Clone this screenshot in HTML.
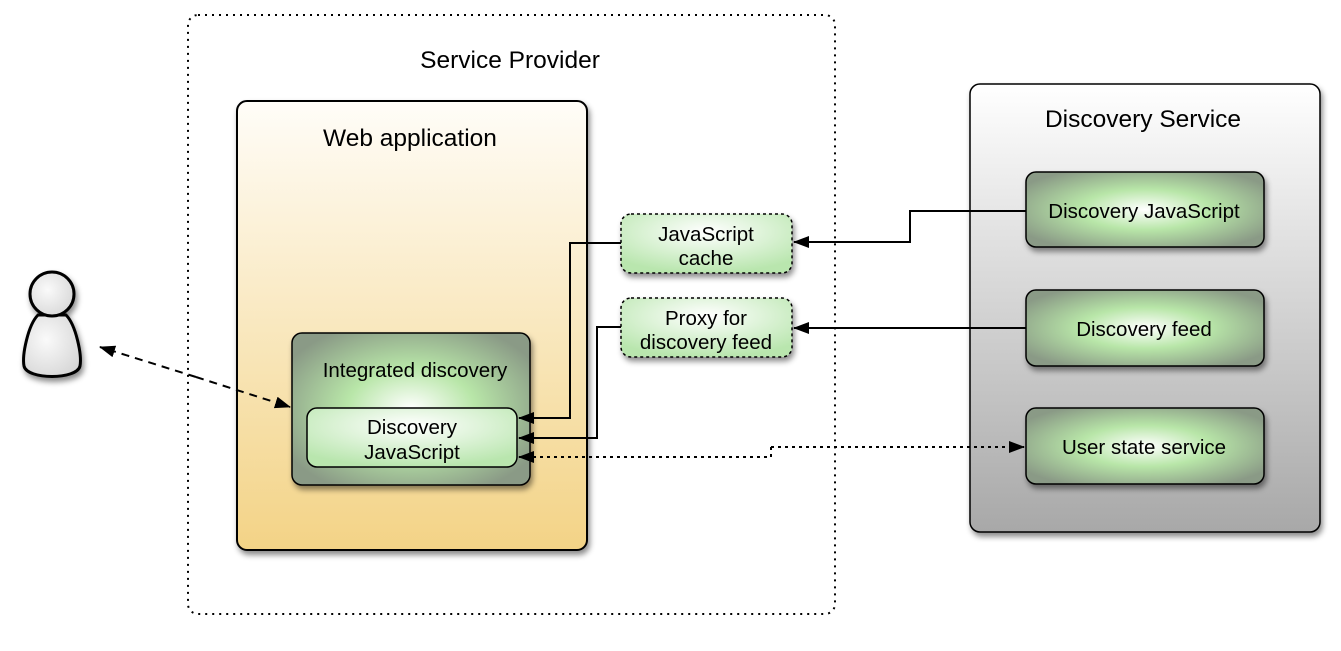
<!DOCTYPE html>
<html><head><style>
body{margin:0;background:#fff;font-family:"Liberation Sans",sans-serif;}
</style></head><body>
<svg width="1341" height="646" xmlns="http://www.w3.org/2000/svg" font-family="Liberation Sans, sans-serif">
<defs>
<linearGradient id="wa" x1="0" y1="0" x2="0" y2="1"><stop offset="0" stop-color="#fffdf8"/><stop offset="1" stop-color="#f3d386"/></linearGradient>
<linearGradient id="ds" x1="0" y1="0" x2="0" y2="1"><stop offset="0" stop-color="#ffffff"/><stop offset="1" stop-color="#a8a8a8"/></linearGradient>
<radialGradient id="gg" cx="0.5" cy="0.5" r="0.6"><stop offset="0" stop-color="#ffffff"/><stop offset="0.45" stop-color="#b8e6a8"/><stop offset="1" stop-color="#8a9a86"/></radialGradient>
<radialGradient id="lg" cx="0.5" cy="0.3" r="0.7"><stop offset="0" stop-color="#ffffff"/><stop offset="1" stop-color="#b9e6ae"/></radialGradient>
<radialGradient id="pg" cx="0.4" cy="0.4" r="0.7"><stop offset="0" stop-color="#fafafa"/><stop offset="1" stop-color="#d6d6d6"/></radialGradient>
<filter id="sh" x="-20%" y="-20%" width="140%" height="140%"><feDropShadow dx="2" dy="4" stdDeviation="3" flood-opacity="0.45"/></filter>
<marker id="ar" markerWidth="16" markerHeight="12" refX="15" refY="6" orient="auto" markerUnits="userSpaceOnUse"><path d="M0,0 L16,6 L0,12 z" fill="#000"/></marker>
</defs>
<rect x="188" y="15" width="647" height="599" rx="10" fill="none" stroke="#000" stroke-width="2" stroke-dasharray="2,5"/>
<text x="510" y="68" font-size="24.5" text-anchor="middle">Service Provider</text>
<rect x="237" y="101" width="350" height="449" rx="10" fill="url(#wa)" stroke="#000" stroke-width="2" filter="url(#sh)"/>
<text x="410" y="146" font-size="24.5" text-anchor="middle">Web application</text>
<rect x="292" y="333" width="238" height="152" rx="10" fill="url(#gg)" stroke="#000" stroke-width="1.5" filter="url(#sh)"/>
<text x="415" y="377" font-size="20.5" text-anchor="middle">Integrated discovery</text>
<rect x="307" y="408" width="210" height="59" rx="10" fill="url(#lg)" stroke="#000" stroke-width="1.5"/>
<text x="412" y="434" font-size="20.5" text-anchor="middle">Discovery</text>
<text x="412" y="459" font-size="20.5" text-anchor="middle">JavaScript</text>
<rect x="621" y="214" width="171" height="59" rx="10" fill="url(#lg)" stroke="#000" stroke-width="1.5" stroke-dasharray="3,3" filter="url(#sh)"/>
<text x="706" y="241" font-size="20.5" text-anchor="middle">JavaScript</text>
<text x="706" y="265" font-size="20.5" text-anchor="middle">cache</text>
<rect x="621" y="298" width="171" height="59" rx="10" fill="url(#lg)" stroke="#000" stroke-width="1.5" stroke-dasharray="3,3" filter="url(#sh)"/>
<text x="706" y="325" font-size="20.5" text-anchor="middle">Proxy for</text>
<text x="706" y="349" font-size="20.5" text-anchor="middle">discovery feed</text>
<rect x="970" y="84" width="350" height="448" rx="10" fill="url(#ds)" stroke="#000" stroke-width="1.5" filter="url(#sh)"/>
<text x="1143" y="127" font-size="24.5" text-anchor="middle">Discovery Service</text>
<rect x="1026" y="172" width="238" height="75" rx="10" fill="url(#gg)" stroke="#000" stroke-width="1.5" filter="url(#sh)"/>
<text x="1144" y="218" font-size="20.5" text-anchor="middle">Discovery JavaScript</text>
<rect x="1026" y="290" width="238" height="76" rx="10" fill="url(#gg)" stroke="#000" stroke-width="1.5" filter="url(#sh)"/>
<text x="1144" y="336" font-size="20.5" text-anchor="middle">Discovery feed</text>
<rect x="1026" y="408" width="238" height="76" rx="10" fill="url(#gg)" stroke="#000" stroke-width="1.5" filter="url(#sh)"/>
<text x="1144" y="454" font-size="20.5" text-anchor="middle">User state service</text>
<!-- person -->
<g filter="url(#sh)" stroke="#000" stroke-width="3" fill="url(#pg)">
<path d="M38,315 C28,325 22,355 24,366 C27,380 77,380 80,366 C82,355 76,325 66,315 Z"/>
<circle cx="52" cy="294" r="22"/>
</g>
<!-- connectors -->
<g fill="none" stroke="#000" stroke-width="2">
<path d="M1026,211 H910 V242 H794" marker-end="url(#ar)"/>
<path d="M1026,328 H794" marker-end="url(#ar)"/>
<path d="M621,243 H570 V418 H519" marker-end="url(#ar)"/>
<path d="M621,327 H597 V438 H519" marker-end="url(#ar)"/>
<path d="M771,447 H1024" stroke-dasharray="3,4" marker-end="url(#ar)"/>
<path d="M771,447 V457 H519" stroke-dasharray="3,4" marker-end="url(#ar)"/>
<path d="M196,377 L290,407" stroke-dasharray="8,6" marker-end="url(#ar)"/>
<path d="M196,377 L100,347" stroke-dasharray="8,6" marker-end="url(#ar)"/>
</g>
</svg>
</body></html>
